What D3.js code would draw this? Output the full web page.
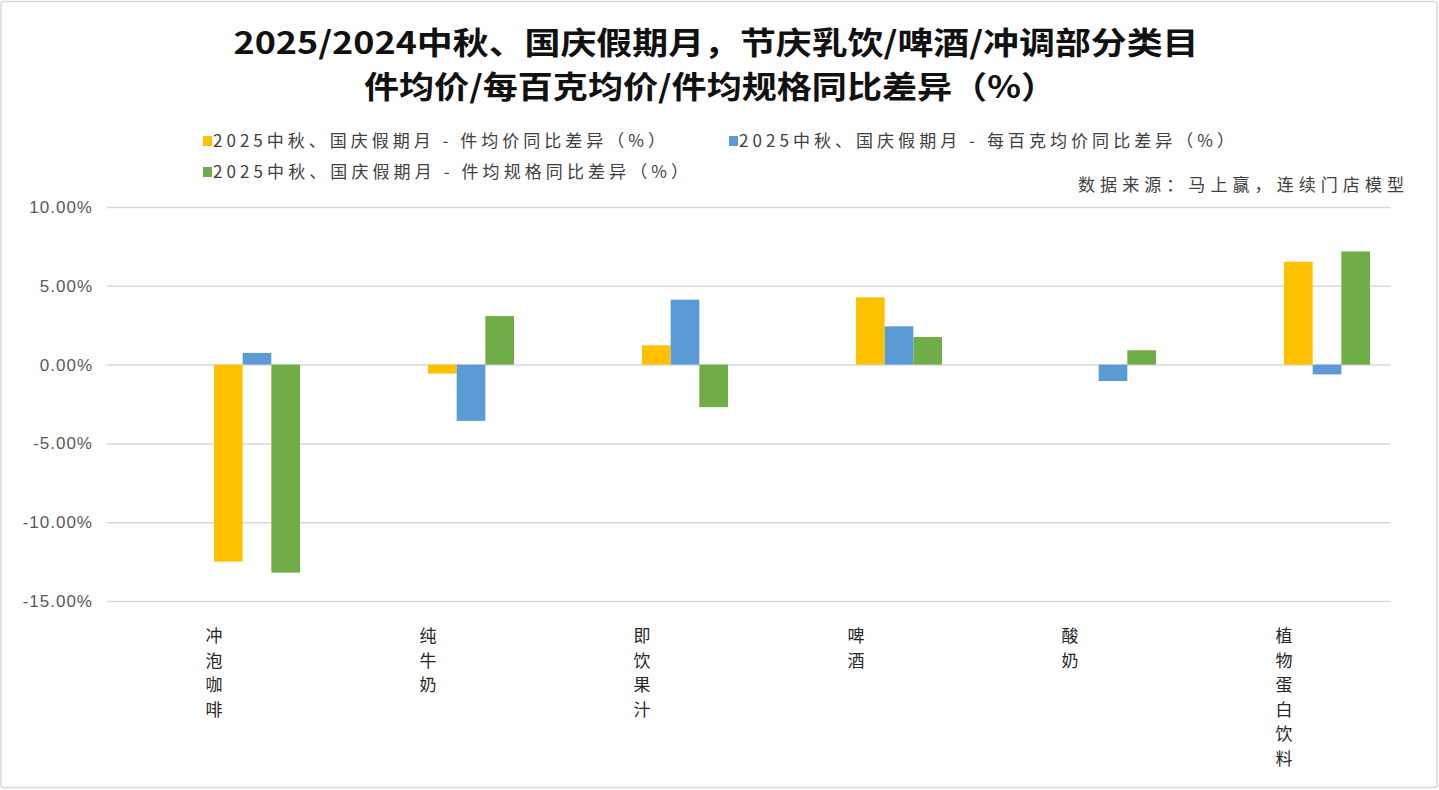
<!DOCTYPE html>
<html><head><meta charset="utf-8">
<script src="https://cdn.jsdelivr.net/npm/d3@7"></script>
<style>body{margin:0;background:#fff;} svg{display:block;}</style>
</head><body>
<svg id="c" width="1439" height="790"></svg>
<script>
const categories = ["冲泡咖啡","纯牛奶","即饮果汁","啤酒","酸奶","植物蛋白饮料"];
const seriesNames = ["2025中秋、国庆假期月 - 件均价同比差异（%）","2025中秋、国庆假期月 - 每百克均价同比差异（%）","2025中秋、国庆假期月 - 件均规格同比差异（%）"];
const pricePerItem = [-12.5, -0.57, 1.22, 4.27, 0.0, 6.53];
const pricePer100g = [0.74, -3.57, 4.12, 2.43, -1.04, -0.62];
const sizePerItem = [-13.2, 3.08, -2.7, 1.75, 0.91, 7.18];
const yTicks = [10, 5, 0, -5, -10, -15];
const colors = ["#FFC000","#5B9BD5","#70AD47"];
const title1 = "2025/2024中秋、国庆假期月，节庆乳饮/啤酒/冲调部分类目";
const title2 = "件均价/每百克均价/件均规格同比差异（%）";
const sourceText = "数据来源：马上赢，连续门店模型";

const series = [pricePerItem, pricePer100g, sizePerItem];
const svg = d3.select("#c");
const font = "'Noto Sans CJK SC','Noto Sans',sans-serif";

svg.append("rect").attr("x",1).attr("y",1.5).attr("width",1436).attr("height",786)
  .attr("fill","#fff").attr("stroke","#D9D9D9").attr("stroke-width",1.5).attr("rx",3);

const x = d3.scaleBand().domain(categories).range([107,1391]).paddingInner(0).paddingOuter(0);
const xs = d3.scaleBand().domain(d3.range(3)).range([0,86]).padding(0);
const y = d3.scaleLinear().domain([-15,10]).range([601,207]);

// grid
const yAxis = d3.axisLeft(y).tickValues(yTicks).tickSize(-(1391-107)).tickFormat(d=>d.toFixed(2)+"%").tickPadding(14);
const ga = svg.append("g").attr("transform","translate(107,0)").call(yAxis);
ga.select(".domain").remove();
ga.selectAll(".tick line").attr("stroke","#D9D9D9").attr("stroke-width",1.5);
ga.selectAll(".tick text").attr("fill","#595959").style("font-family","Arial,'Liberation Sans',sans-serif")
  .style("font-size","17px").style("letter-spacing","1px");

// bars
series.forEach((vals,si)=>{
  svg.append("g").selectAll("rect").data(vals).join("rect")
    .attr("x",(d,i)=>x(categories[i])+x.bandwidth()/2+xs(si))
    .attr("width",xs.bandwidth())
    .attr("y",d=>y(Math.max(0,d)))
    .attr("height",d=>Math.abs(y(d)-y(0)))
    .attr("fill",colors[si]);
});

// x labels vertical (one character per line)
categories.forEach(c=>{
  const cx = x(c)+x.bandwidth()/2;
  const t = svg.append("text").attr("fill","#262626").style("font-family",font).style("font-size","17px")
    .attr("text-anchor","middle");
  Array.from(c).forEach((ch,k)=>{
    t.append("tspan").attr("x",cx).attr("y",642+k*24.5).text(ch);
  });
});

// title
svg.append("text").attr("x",716).attr("y",54).attr("text-anchor","middle")
  .attr("textLength",965).attr("lengthAdjust","spacingAndGlyphs")
  .style("font-family",font).style("font-size","31px").style("font-weight","bold").attr("fill","#111")
  .text(title1);
svg.append("text").attr("x",710).attr("y",98).attr("text-anchor","middle")
  .attr("textLength",692).attr("lengthAdjust","spacingAndGlyphs")
  .style("font-family",font).style("font-size","31px").style("font-weight","bold").attr("fill","#111")
  .text(title2);

// legend
const leg = [{x:203,y:141,w:452},{x:729,y:141,w:495},{x:203,y:172,w:475}];
leg.forEach((l,i)=>{
  svg.append("rect").attr("x",l.x).attr("y",l.y-5).attr("width",9).attr("height",10).attr("fill",colors[i]);
  svg.append("text").attr("x",l.x+10).attr("y",l.y+6).attr("textLength",l.w).attr("lengthAdjust","spacing")
    .style("font-family",font).style("font-size","17px").attr("fill","#404040").text(seriesNames[i]);
});

svg.append("text").attr("x",1078).attr("y",191)
  .attr("textLength",326).attr("lengthAdjust","spacing")
  .style("font-family",font).style("font-size","17px").attr("fill","#404040").text(sourceText);
</script>
</body></html>
